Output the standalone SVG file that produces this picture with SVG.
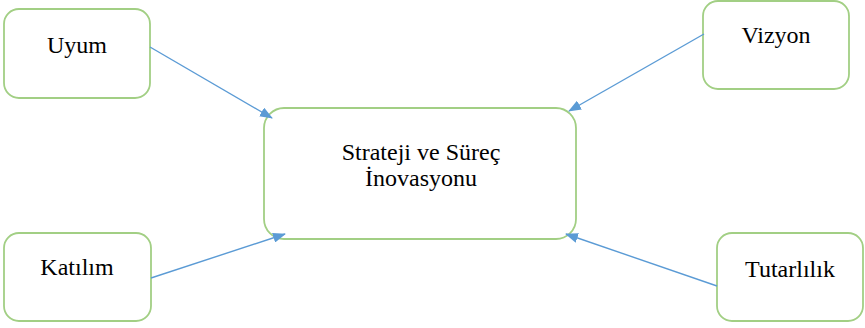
<svg xmlns="http://www.w3.org/2000/svg" width="865" height="328" viewBox="0 0 865 328">
<style>
.box{fill:#fff;stroke:#A2CF84;stroke-width:1.8}
text{font-family:'Liberation Serif','DejaVu Serif',serif;font-size:24px;fill:#000;text-anchor:middle}
.c{stroke:#5B9BD5;stroke-width:1.4;fill:none;marker-end:url(#ah)}
</style>
<defs>
<marker id="ah" markerWidth="13" markerHeight="10" refX="12" refY="5" orient="auto" markerUnits="userSpaceOnUse">
<path d="M0,0 L13,5 L0,10 Z" fill="#5B9BD5"/>
</marker>
</defs>
<rect width="865" height="328" fill="#fff"/>
<g id="center">
<rect class="box" x="264" y="108" width="312" height="131" rx="20"/>
<text x="421" y="160">Strateji ve Süreç</text>
<text x="421" y="186">İnovasyonu</text>
</g>
<g id="uyum">
<rect class="box" x="4" y="9" width="146" height="89" rx="15"/>
<text x="77" y="53">Uyum</text>
</g>
<g id="vizyon">
<rect class="box" x="703" y="1" width="146" height="88" rx="15"/>
<text x="776" y="43">Vizyon</text>
</g>
<g id="katilim">
<rect class="box" x="4" y="233" width="147" height="88" rx="15"/>
<text x="77" y="275">Katılım</text>
</g>
<g id="tutarlilik">
<rect class="box" x="717" y="233" width="146" height="88" rx="15"/>
<text x="790" y="277">Tutarlılık</text>
</g>
<g id="connectors">
<line class="c" x1="150" y1="47" x2="272" y2="118"/>
<line class="c" x1="704" y1="34" x2="569" y2="111"/>
<line class="c" x1="151" y1="278" x2="285" y2="234"/>
<line class="c" x1="717" y1="286" x2="566" y2="234"/>
</g>
</svg>
